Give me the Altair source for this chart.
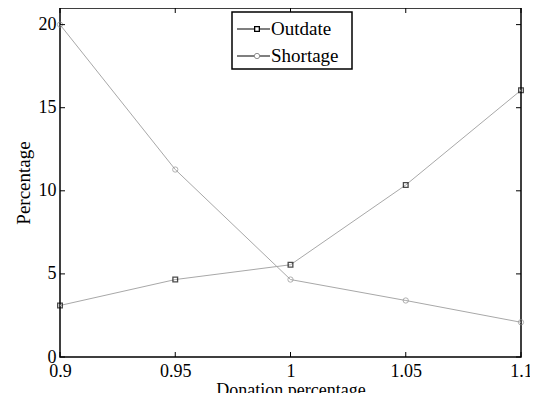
import altair as alt
import pandas as pd

x_vals = [0.9, 0.95, 1.0, 1.05, 1.1]
outdate = [3.1, 4.66, 5.55, 10.35, 16.05]
shortage = [20.0, 11.28, 4.66, 3.4, 2.09]
x_ticks = [0.9, 0.95, 1.0, 1.05, 1.1]
y_ticks = [0, 5, 10, 15, 20]
legend_labels = ["Outdate", "Shortage"]

W, H = 461, 349
FONT = "Liberation Serif"

df = pd.DataFrame({
    "x": x_vals * 2,
    "y": outdate + shortage,
    "series": ["Outdate"] * 5 + ["Shortage"] * 5,
})
dfx = pd.DataFrame({"t": x_ticks})
dfy = pd.DataFrame({"t": y_ticks})
one = pd.DataFrame({"k": [0]})

xs = alt.Scale(domain=[0.9, 1.1], nice=False, zero=False)
ys = alt.Scale(domain=[0, 21], nice=False)

xax = alt.Axis(values=x_ticks, format="~g", grid=False, ticks=False, domain=False,
               labelFont=FONT, labelFontSize=18, labelColor="black", labelPadding=5,
               labelFlush=False, title="Donation percentage", titleFont=FONT,
               titleFontSize=18, titleFontWeight="normal", titleColor="black", titlePadding=1)
yax = alt.Axis(values=y_ticks, grid=False, ticks=False, domain=False,
               labelFont=FONT, labelFontSize=18, labelColor="black", labelPadding=4,
               labelFlush=False, title="Percentage", titleFont=FONT,
               titleFontSize=19, titleFontWeight="normal", titleColor="black", titlePadding=5)

base = alt.Chart(df)
lines = base.mark_line(color="#a8a8a8", strokeWidth=1).encode(
    x=alt.X("x:Q", scale=xs, axis=xax),
    y=alt.Y("y:Q", scale=ys, axis=yax),
    detail="series:N",
)
pts_out = base.transform_filter(alt.datum.series == "Outdate").mark_point(
    shape="square", color="black", filled=False, size=22, strokeWidth=1.3
).encode(x=alt.X("x:Q", scale=xs), y=alt.Y("y:Q", scale=ys))
pts_sh = base.transform_filter(alt.datum.series == "Shortage").mark_point(
    shape="circle", color="#909090", filled=False, size=28, strokeWidth=1
).encode(x=alt.X("x:Q", scale=xs), y=alt.Y("y:Q", scale=ys))

tb = alt.Chart(dfx).mark_rule(color="black", strokeWidth=1).encode(
    x=alt.X("t:Q", scale=xs), y=alt.value(H), y2=alt.value(H - 5))
tt = alt.Chart(dfx).mark_rule(color="black", strokeWidth=1).encode(
    x=alt.X("t:Q", scale=xs), y=alt.value(0), y2=alt.value(5))
tl = alt.Chart(dfy).mark_rule(color="black", strokeWidth=1).encode(
    y=alt.Y("t:Q", scale=ys), x=alt.value(0), x2=alt.value(5))
tr = alt.Chart(dfy).mark_rule(color="black", strokeWidth=1).encode(
    y=alt.Y("t:Q", scale=ys), x=alt.value(W), x2=alt.value(W - 5))

# legend
lc = alt.Chart(one)
leg_box = lc.mark_rect(fill="white", stroke="black", strokeWidth=1.5).encode(
    x=alt.value(172), x2=alt.value(292), y=alt.value(4), y2=alt.value(61))
leg_l1 = lc.mark_rule(color="black", strokeWidth=1.2).encode(
    x=alt.value(177), x2=alt.value(210), y=alt.value(21))
leg_l2 = lc.mark_rule(color="black", strokeWidth=1.2).encode(
    x=alt.value(177), x2=alt.value(210), y=alt.value(48))
leg_m1 = lc.mark_point(shape="square", stroke="black", filled=False, fill="white",
                       fillOpacity=1, size=22, strokeWidth=1.3).encode(
    x=alt.value(197), y=alt.value(21))
leg_m2 = lc.mark_point(shape="circle", stroke="#909090", filled=False, fill="white",
                       fillOpacity=1, size=28, strokeWidth=1).encode(
    x=alt.value(197), y=alt.value(48))
leg_t1 = lc.mark_text(text=legend_labels[0], font=FONT, fontSize=19, align="left",
                      baseline="middle", color="black").encode(
    x=alt.value(211), y=alt.value(21))
leg_t2 = lc.mark_text(text=legend_labels[1], font=FONT, fontSize=19, align="left",
                      baseline="middle", color="black").encode(
    x=alt.value(211), y=alt.value(48))

chart = alt.layer(
    lines, pts_out, pts_sh, tb, tt, tl, tr,
    leg_box, leg_l1, leg_l2, leg_m1, leg_m2, leg_t1, leg_t2,
).properties(
    width=W, height=H,
    autosize=alt.AutoSizeParams(type="none"),
    padding={"left": 52, "top": 0, "right": 9, "bottom": 36},
).configure_view(stroke="black", strokeWidth=1.5)

chart.save("out.html", embed_options={"renderer": "svg", "actions": False})
